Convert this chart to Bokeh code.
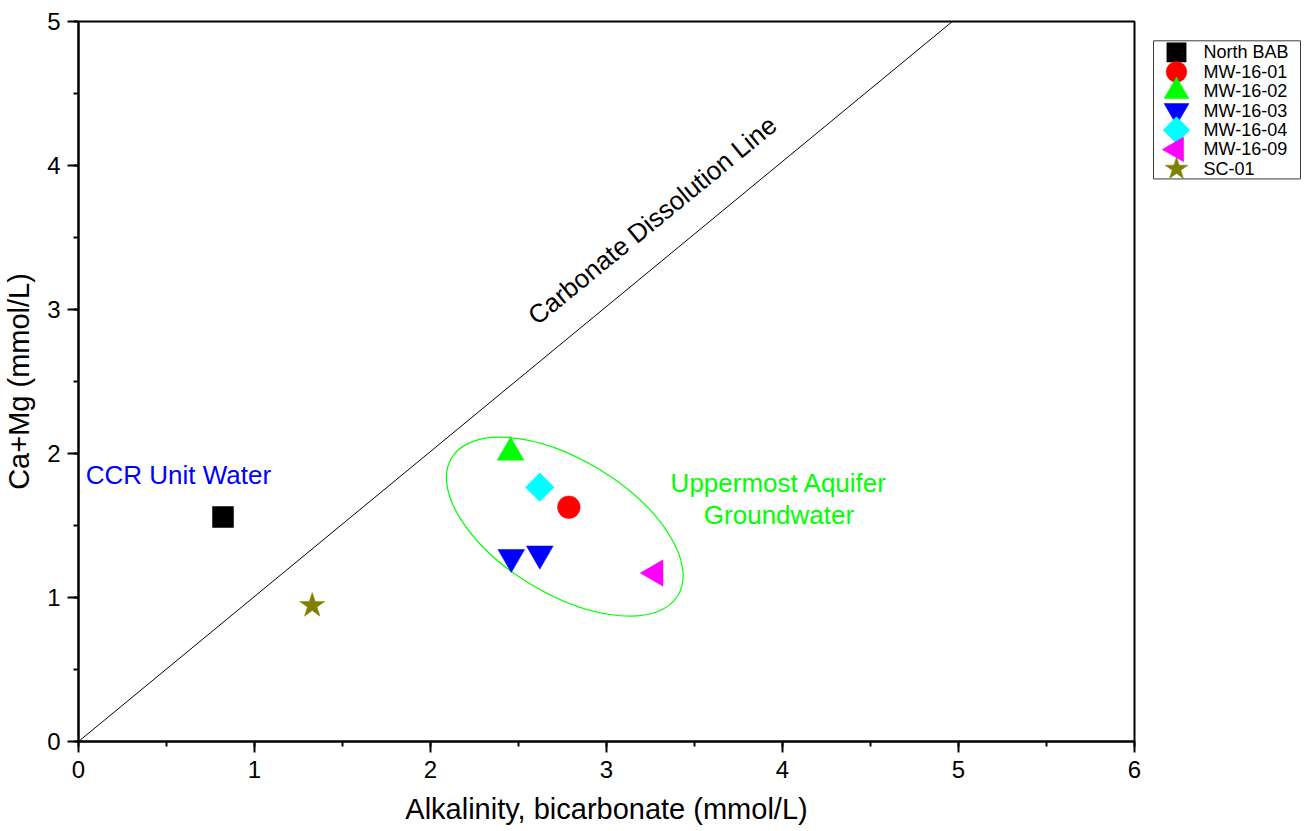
import numpy as np
from bokeh.plotting import figure
from bokeh.models import Range1d, SingleIntervalTicker
from bokeh.layouts import row
from bokeh.embed import file_html
from bokeh.resources import INLINE
from bokeh.core.properties import value

FONT = "Liberation Sans"

# ---- data ----
series_names = ["North BAB", "MW-16-01", "MW-16-02", "MW-16-03", "MW-16-04", "MW-16-09", "SC-01"]
series_markers = ["square", "circle", "triangle", "inverted_triangle", "square", "triangle", "star"]
series_angles = [0.0, 0.0, 0.0, 0.0, np.pi / 4, np.pi / 2, 0.0]
series_colors = ["#000000", "#FF0000", "#00FF00", "#0000FF", "#00FFFF", "#FF00FF", "#808000"]
series_sizes = [21, 22.7, 26.7, 26.7, 20.3, 26.3, 26.3]
legend_sizes = [19.3, 20.7, 24.7, 25.0, 18.9, 24.7, 23.9]

sample_series = ["North BAB", "MW-16-01", "MW-16-02", "MW-16-03", "MW-16-03",
                 "MW-16-04", "MW-16-09", "SC-01"]
alkalinity = [0.821, 2.786, 2.455, 2.459, 2.621, 2.621, 3.278, 1.328]
ca_mg = [1.559, 1.627, 2.007, 1.280, 1.304, 1.766, 1.170, 0.944]

carbonate_x = [0.0, 4.965]
carbonate_y = [0.0, 5.0]

# ---- main figure ----
p = figure(width=1145, height=831, x_range=Range1d(0, 6), y_range=Range1d(0, 5),
           output_backend="svg", toolbar_location=None,
           min_border_left=78, min_border_right=11, min_border_top=21, min_border_bottom=90)
p.background_fill_color = "white"
p.border_fill_color = "white"
p.outline_line_color = "black"
p.outline_line_width = 2
p.xgrid.visible = False
p.ygrid.visible = False

p.xaxis.ticker = SingleIntervalTicker(interval=1, num_minor_ticks=2)
p.yaxis.ticker = SingleIntervalTicker(interval=1, num_minor_ticks=2)
for ax in (p.xaxis, p.yaxis):
    ax.axis_line_width = 2
    ax.major_tick_line_width = 2
    ax.minor_tick_line_width = 2
    ax.major_tick_in = 0
    ax.major_tick_out = 11
    ax.minor_tick_in = 0
    ax.minor_tick_out = 5
    ax.major_label_text_font = FONT
    ax.major_label_text_font_size = "24px"
    ax.major_label_text_color = "black"
    ax.axis_label_text_font = FONT
    ax.axis_label_text_font_size = "29px"
    ax.axis_label_text_font_style = "normal"
    ax.axis_label_text_color = "black"
p.xaxis.axis_label = "Alkalinity, bicarbonate (mmol/L)"
p.yaxis.axis_label = "Ca+Mg (mmol/L)"
p.xaxis.major_label_standoff = 8
p.yaxis.major_label_standoff = 7
p.xaxis.axis_label_standoff = 12
p.yaxis.axis_label_standoff = 9

# carbonate dissolution line
p.line(carbonate_x, carbonate_y, line_color="black", line_width=1)

# ellipse around groundwater samples
p.ellipse(x=[2.763], y=[1.492], width=[1.505], height=[0.929], angle=[-0.547],
          fill_color=None, line_color="#00FF00", line_width=1.2)

# points
for name, mk, ang, col, sz in zip(series_names, series_markers, series_angles, series_colors, series_sizes):
    xs = [x for s, x in zip(sample_series, alkalinity) if s == name]
    ys = [y for s, y in zip(sample_series, ca_mg) if s == name]
    p.scatter(xs, ys, marker=mk, angle=ang, size=sz, fill_color=col, line_color=col, line_width=0.5)

# annotations
p.text(x=[3.26], y=[3.62], text=["Carbonate Dissolution Line"], angle=0.686,
       text_align="center", text_baseline="middle", text_color="black",
       text_font=value(FONT), text_font_size="26px")
p.text(x=[0.568], y=[1.852], text=["CCR Unit Water"], text_align="center",
       text_baseline="alphabetic", text_color="#0000FF",
       text_font=value(FONT), text_font_size="26px")
p.text(x=[3.98, 3.98], y=[1.794, 1.575], text=["Uppermost Aquifer", "Groundwater"],
       text_align="center", text_baseline="alphabetic", text_color="#00FF00",
       text_font=value(FONT), text_font_size="26px")

# ---- legend panel ----
leg = figure(width=160, height=831, x_range=Range1d(0, 160), y_range=Range1d(831, 0),
             output_backend="svg", toolbar_location=None, x_axis_type=None, y_axis_type=None,
             min_border=0, min_border_left=0, min_border_right=0, min_border_top=0, min_border_bottom=0)
leg.outline_line_color = None
leg.xgrid.visible = False
leg.ygrid.visible = False
leg.background_fill_color = "white"
leg.border_fill_color = "white"

leg.quad(left=[8], right=[155], top=[22.3], bottom=[181.7], fill_color=None,
         line_color="#3a3a3a", line_width=1)
row_y = [35.7 + 22.4 * i for i in range(len(series_names))]
for i, (name, mk, ang, col, sz) in enumerate(zip(series_names, series_markers, series_angles, series_colors, legend_sizes)):
    leg.scatter([31], [row_y[i]], marker=mk, angle=ang, size=sz, fill_color=col, line_color=col, line_width=0.5)
leg.text(x=[58] * len(series_names), y=row_y, text=series_names, text_align="left",
         text_baseline="middle", text_color="black", text_font=value(FONT), text_font_size="18px")

layout = row(p, leg)
open("out.html", "w").write(file_html(layout, INLINE))
